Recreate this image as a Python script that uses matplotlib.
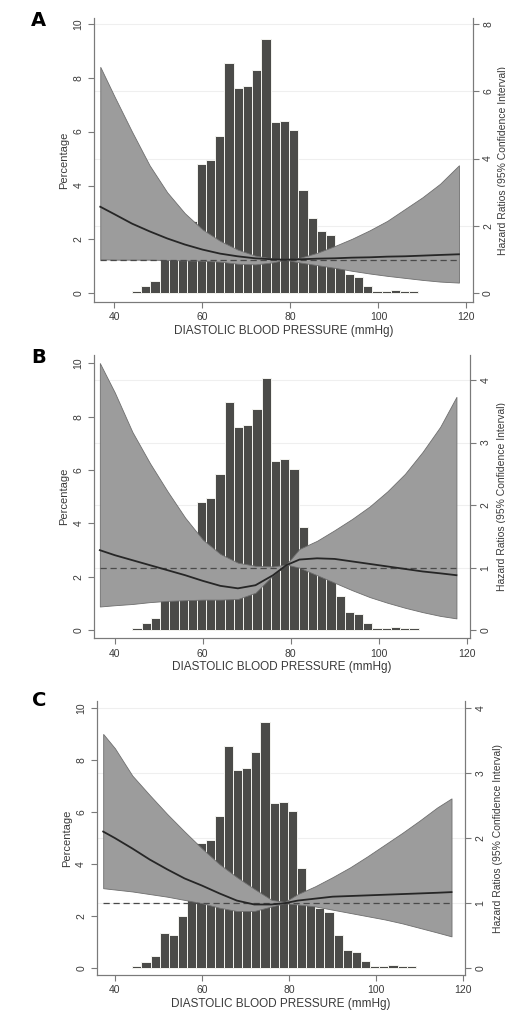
import numpy as np
import matplotlib
matplotlib.use("Agg")
import matplotlib.pyplot as plt

plt.rcParams['font.family'] = ['Liberation Sans', 'DejaVu Sans']

#%% Data

# histogram of diastolic blood pressure (same population in all panels)
bin_start = 44.0
bin_width = 2.1
pct = [0.09, 0.26, 0.47, 1.35, 1.27, 2.0, 2.7, 4.8, 4.94, 5.85, 8.55, 7.6, 7.7,
       8.3, 9.45, 6.35, 6.4, 6.05, 3.85, 2.8, 2.3, 2.18, 1.28, 0.7, 0.62, 0.28,
       0.1, 0.1, 0.12, 0.09, 0.07]

# panel A
x_a = [36.8, 40, 44, 48, 52, 56, 60, 64, 68, 72, 76, 78.8, 82, 86, 90, 94, 98,
       102, 106, 110, 114, 118.3]
up_a = [6.72, 5.85, 4.8, 3.8, 3.0, 2.38, 1.9, 1.56, 1.3, 1.12, 1.03, 1.0,
        1.05, 1.2, 1.4, 1.62, 1.87, 2.15, 2.5, 2.85, 3.25, 3.8]
lo_a = [1.01, 1.0, 1.0, 1.0, 0.99, 0.98, 0.97, 0.94, 0.88, 0.86, 0.92, 1.0,
        0.92, 0.84, 0.76, 0.67, 0.59, 0.52, 0.46, 0.4, 0.35, 0.32]
hr_a = [2.57, 2.35, 2.07, 1.84, 1.63, 1.45, 1.3, 1.18, 1.1, 1.04, 1.01, 1.0,
        1.01, 1.03, 1.04, 1.06, 1.07, 1.09, 1.1, 1.12, 1.14, 1.16]

# panel B
x_b = [36.6, 40, 44, 48, 52, 56, 60, 64, 68, 72, 76, 79, 82, 86, 90, 94, 98,
       102, 106, 110, 114, 117.7]
up_b = [4.27, 3.8, 3.17, 2.67, 2.22, 1.8, 1.45, 1.22, 1.08, 1.03, 1.02, 1.05,
        1.3, 1.43, 1.6, 1.78, 1.98, 2.22, 2.5, 2.85, 3.25, 3.73]
lo_b = [0.38, 0.4, 0.42, 0.45, 0.47, 0.48, 0.49, 0.49, 0.5, 0.6, 0.88, 1.05,
        1.0, 0.88, 0.76, 0.64, 0.53, 0.44, 0.36, 0.29, 0.23, 0.19]
hr_b = [1.28, 1.2, 1.12, 1.04, 0.96, 0.88, 0.79, 0.71, 0.67, 0.72, 0.88, 1.04,
        1.13, 1.15, 1.14, 1.1, 1.06, 1.02, 0.98, 0.94, 0.91, 0.88]

# panel C
x_c = [37.3, 40, 44, 48, 52, 56, 60, 64, 68, 72, 76, 79, 82, 86, 90, 94, 98,
       102, 106, 110, 114, 117.3]
up_c = [3.6, 3.38, 2.96, 2.66, 2.37, 2.1, 1.84, 1.6, 1.4, 1.22, 1.05, 1.02,
        1.14, 1.26, 1.4, 1.55, 1.72, 1.9, 2.08, 2.27, 2.47, 2.61]
lo_c = [1.23, 1.21, 1.18, 1.14, 1.1, 1.05, 1.0, 0.93, 0.88, 0.88, 0.95, 1.0,
        0.98, 0.95, 0.9, 0.85, 0.8, 0.75, 0.69, 0.62, 0.55, 0.49]
hr_c = [2.1, 2.0, 1.84, 1.67, 1.52, 1.38, 1.27, 1.15, 1.04, 0.98, 0.98, 1.0,
        1.04, 1.07, 1.1, 1.11, 1.12, 1.13, 1.14, 1.15, 1.16, 1.17]

ref_hr = 1.0
pct_ticks = [0, 2, 4, 6, 8, 10]
x_ticks = [40, 60, 80, 100, 120]

#%% Plot

panels = [
    # letter, rect, xlim, ylim left, pct->hr ratio, hr ticks, curves, letter y, right label x
    ("A", [0.186, 0.7036, 0.748, 0.2784], (35.4, 121.4), (-0.31, 10.2), 1.25,
     [0, 2, 4, 6, 8], (x_a, up_a, lo_a, hr_a), 0.980, 1.066),
    ("B", [0.186, 0.373, 0.743, 0.278], (35.3, 120.8), (-0.30, 10.3), 2.344,
     [0, 1, 2, 3, 4], (x_b, up_b, lo_b, hr_b), 0.649, 1.071),
    ("C", [0.191, 0.0422, 0.728, 0.2688], (35.8, 120.4), (-0.26, 10.25), 2.5,
     [0, 1, 2, 3, 4], (x_c, up_c, lo_c, hr_c), 0.312, 1.076),
]

fig = plt.figure(figsize=(5.06, 10.18), dpi=100)
edges = bin_start + bin_width * np.arange(len(pct))
axis_col = '#7a7a7a'
text_col = '#3a3a3a'

for letter, rect, xlim, ylim, ratio, hr_ticks, curves, ly, rx in panels:
    x, up, lo, hr = curves
    ax = fig.add_axes(rect)
    ax.set_xlim(*xlim)
    ax.set_ylim(*ylim)

    # faint grid at hazard ratio ticks, behind the bars
    for t in hr_ticks[1:]:
        ax.axhline(t * ratio, color='#efefef', lw=0.8, zorder=0)

    ax.bar(edges, pct, width=bin_width, align='edge', color='#4b4b49',
           edgecolor='#f4f4f0', linewidth=0.7, zorder=1)

    ax2 = ax.twinx()
    ax2.set_ylim(ylim[0] / ratio, ylim[1] / ratio)
    ax2.fill_between(x, lo, up, facecolor='#9c9c9c', edgecolor='#6e6e6e',
                     linewidth=0.6, zorder=2)
    ax2.hlines(ref_hr, x[0], x[-1], colors='#4a4a4a', linestyles=(0, (5, 3)),
               lw=0.9, zorder=3)
    ax2.plot(x, hr, color='#262626', lw=1.3, zorder=4)

    for a in (ax, ax2):
        a.spines['top'].set_visible(False)
        for s in ('left', 'right', 'bottom'):
            a.spines[s].set_color(axis_col)
            a.spines[s].set_linewidth(0.8)
        a.tick_params(colors=axis_col, labelcolor=text_col, labelsize=7.5,
                      length=4, width=0.8)

    ax.set_xticks(x_ticks)
    ax.set_yticks(pct_ticks)
    ax2.set_yticks(hr_ticks)
    for lab in ax.get_yticklabels() + ax2.get_yticklabels():
        lab.set_rotation(90)
        lab.set_va('center')

    ax.set_xlabel('DIASTOLIC BLOOD PRESSURE (mmHg)', fontsize=8.5,
                  color=text_col, labelpad=2)
    ax.set_ylabel('Percentage', fontsize=8, color=text_col, labelpad=3)
    ax2.set_ylabel('Hazard Ratios (95% Confidence Interval)', fontsize=7.5,
                   color=text_col, rotation=90)
    ax2.yaxis.set_label_coords(rx, 0.5)

    fig.text(0.077, ly, letter, fontsize=14, fontweight='heavy',
             family='DejaVu Sans', ha='center', va='center')

fig.savefig('out.png', dpi=100)
